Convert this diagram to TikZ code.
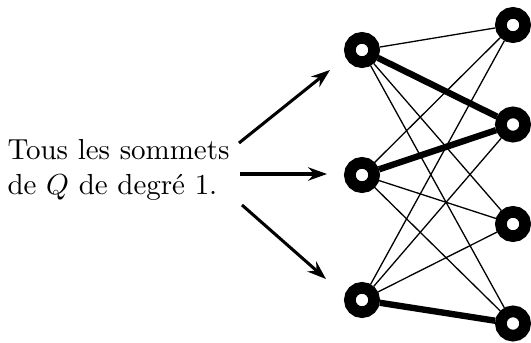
\documentclass[tikz,border=0pt]{standalone}
\usetikzlibrary{arrows.meta}
\begin{document}
\begin{tikzpicture}[x=0.345pt,y=-0.345pt,
  vertex/.style={circle,draw=black,fill=white,line width=4pt,inner sep=0pt,minimum size=8.4pt},
  thinedge/.style={line width=0.45pt},
  thickedge/.style={line width=2.2pt},
  pointer/.style={line width=1.05pt,-{Stealth[length=6.5pt,width=4.6pt]}}]
\useasboundingbox (0,0) rectangle (531,342);
\node[vertex] (L1) at (362,50) {};
\node[vertex] (L2) at (362,175) {};
\node[vertex] (L3) at (362,300) {};
\node[vertex] (R1) at (513,25) {};
\node[vertex] (R2) at (513,124.5) {};
\node[vertex] (R3) at (513,224) {};
\node[vertex] (R4) at (513,323.5) {};
\foreach \l in {L1,L2,L3}{
  \foreach \r in {R1,R2,R3,R4}{
    \draw[thinedge] (\l) -- (\r);
  }
}
\draw[thickedge] (L1) -- (R2);
\draw[thickedge] (L2) -- (R2);
\draw[thickedge] (L3) -- (R4);
\node[anchor=west,inner sep=0pt,align=left] (txt) at (7,170) {Tous les sommets\\de $Q$ de degré 1.};
\coordinate (a1) at (239,143);
\coordinate (a2) at (240,174);
\coordinate (a3) at (242,205);
\coordinate (b1) at (330,70);
\coordinate (b2) at (327,174);
\coordinate (b3) at (326,279);
\draw[pointer] (a1) -- (b1);
\draw[pointer] (a2) -- (b2);
\draw[pointer] (a3) -- (b3);
\end{tikzpicture}
\end{document}
